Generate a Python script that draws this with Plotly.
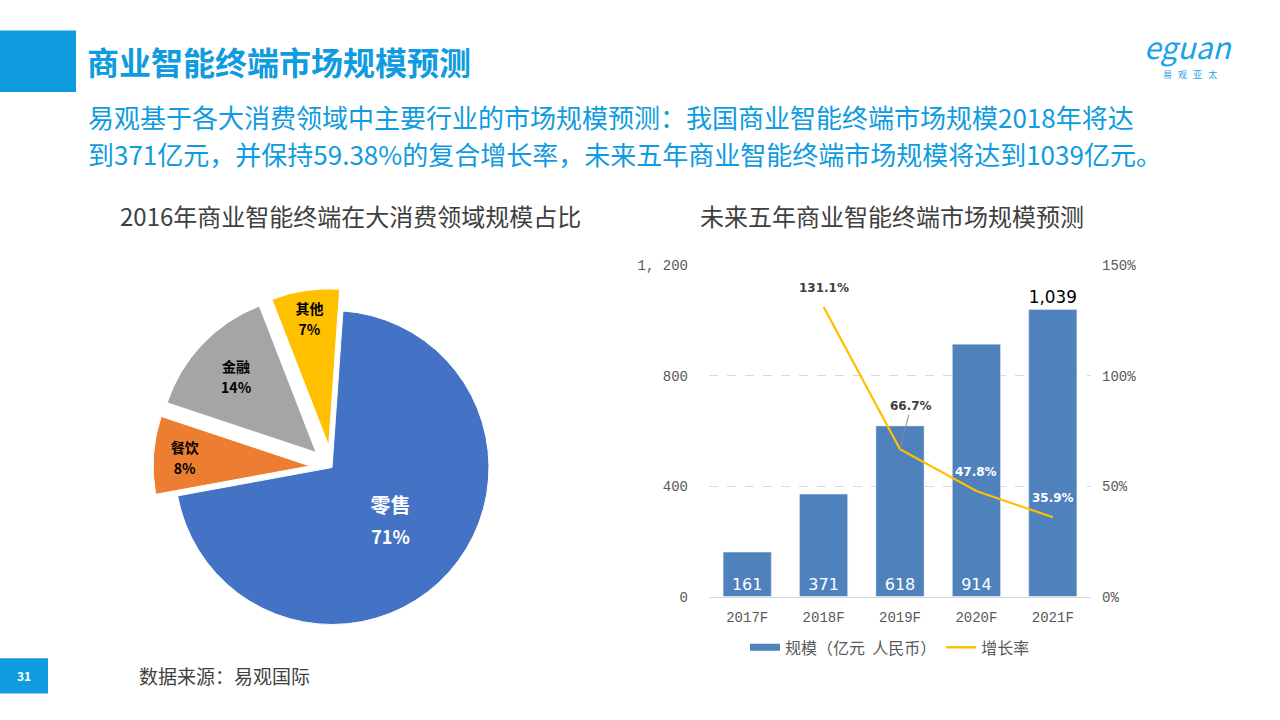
import plotly.graph_objects as go

# ---------------- data ----------------
pie_labels = ["零售", "餐饮", "金融", "其他"]
pie_values = [71, 8, 14, 7]
pie_colors = ["#4472C4", "#ED7D31", "#A5A5A5", "#FFC000"]

years = ["2017F", "2018F", "2019F", "2020F", "2021F"]
scale = [161, 371, 618, 914, 1039]
growth = [None, 1.311, 0.667, 0.478, 0.359]

left_ticks = [0, 400, 800, 1200]
left_tick_text = ["0", "400", "800", "1, 200"]
right_ticks = [0, 0.5, 1.0, 1.5]
right_tick_text = ["0%", "50%", "100%", "150%"]

W, H = 1280, 720
BLUE = "#0E9BE0"
BAR = "#4F81BD"
LINE = "#FFC000"
CJK = "Noto Sans CJK SC"


def px(x):
    return x / W


def py(y):
    return 1 - y / H


fig = go.Figure()

# ---------------- pie ----------------
# label font sizes: (base size that sets line spacing, label size, percent size)
pie_text_sizes = [(24, 20, 18), (16, 14, 14), (16, 14, 14), (16, 14, 14)]
pie_text = [
    f"<span style='font-size:{a}px'><b>{l}</b></span><br>"
    f"<span style='font-size:{b}px'><b>{v}%</b></span>"
    for l, v, (_, a, b) in zip(pie_labels, pie_values, pie_text_sizes)
]
cx, cy, rr = 332, 471, 183
fig.add_trace(go.Pie(
    labels=pie_labels,
    values=pie_values,
    text=pie_text,
    textinfo="text",
    textposition="inside",
    insidetextorientation="horizontal",
    textfont=dict(family=CJK, size=[s[0] for s in pie_text_sizes],
                  color=["white", "black", "black", "black"]),
    marker=dict(colors=pie_colors, line=dict(color="white", width=1)),
    sort=False,
    direction="clockwise",
    rotation=4,
    pull=[0, 0.14, 0.14, 0.14],
    domain=dict(x=[px(cx - rr), px(cx + rr)], y=[py(cy + rr), py(cy - rr)]),
    showlegend=False,
    hoverinfo="label+percent",
))

# ---------------- bar + line ----------------
fig.add_trace(go.Bar(
    x=years, y=scale, name="规模（亿元  人民币）",
    marker=dict(color=BAR),
    width=0.63,
    text=[f"{v:,}" for v in scale],
    textposition=["inside"] * 4 + ["outside"],
    insidetextanchor="start",
    textfont=dict(family="DejaVu Sans", size=[16, 16, 16, 16, 21],
                  color=["white"] * 4 + ["black"]),
    cliponaxis=False,
    showlegend=False,
    xaxis="x", yaxis="y",
))
fig.add_trace(go.Scatter(
    x=years, y=growth, name="增长率", mode="lines",
    line=dict(color=LINE, width=2.2),
    showlegend=False,
    xaxis="x", yaxis="y2",
))
# legend-only entries (wide swatches like the reference)
fig.add_trace(go.Scatter(x=[None], y=[None], mode="lines",
                         name="规模（亿元  人民币）",
                         line=dict(color=BAR, width=7)))
fig.add_trace(go.Scatter(x=[None], y=[None], mode="lines", name="增长率",
                         line=dict(color=LINE, width=2.5)))

# growth labels
lab_font = dict(family="DejaVu Sans", size=12)
for i, (yr, g) in enumerate(zip(years, growth)):
    if g is None:
        continue
    txt = f"<b>{g*100:.1f}%</b>"
    if yr == "2019F":
        fig.add_annotation(x=yr, y=g, xref="x", yref="y2", text=txt,
                           showarrow=True, ax=11, ay=-43, arrowhead=0,
                           arrowwidth=1, arrowcolor="#8c8c8c",
                           font=dict(**lab_font, color="#404040"))
    else:
        col = "#404040" if i == 1 else "white"
        fig.add_annotation(x=yr, y=g, xref="x", yref="y2", text=txt,
                           showarrow=False, yshift=19,
                           font=dict(**lab_font, color=col))

tick_font = dict(family="Liberation Mono", size=14, color="#595959")
fig.update_layout(
    xaxis=dict(domain=[px(709), px(1091)], showgrid=False,
               showline=True, linecolor="#d9d9d9", linewidth=1,
               tickfont=tick_font, ticks="", ticklabelstandoff=8),
    yaxis=dict(domain=[py(603), py(264)], range=[0, 1200],
               tickvals=left_ticks, ticktext=left_tick_text,
               tickfont=tick_font, showgrid=True, gridcolor="#d9d9d9",
               griddash="dash", zeroline=False, ticklabelstandoff=20),
    yaxis2=dict(domain=[py(603), py(264)], range=[0, 1.5],
                overlaying="y", side="right", anchor="x",
                tickvals=right_ticks, ticktext=right_tick_text,
                tickfont=tick_font, showgrid=False, zeroline=False,
                ticklabelstandoff=10),
    bargap=0.37,
    legend=dict(orientation="h", x=px(890), xanchor="center",
                y=py(655), yanchor="middle",
                font=dict(family=CJK, size=16, color="#595959"),
                itemwidth=30, tracegroupgap=0),
)

# ---------------- decorations / text ----------------
shapes = [
    dict(type="rect", xref="paper", yref="paper", x0=0, x1=px(76),
         y0=py(87), y1=py(24), fillcolor=BLUE, line=dict(width=0)),
    dict(type="rect", xref="paper", yref="paper", x0=0, x1=px(48),
         y0=py(702), y1=py(666), fillcolor=BLUE, line=dict(width=0)),
]
fig.update_layout(shapes=shapes)

sub = ("<span style='font-size:26px'>易观基于各大消费领域中主要行业的市场规模预测：我国商业智能终端市场规模2018年将达</span>"
       "<br><span style='font-size:26px'>到371亿元，并保持59.38%的复合增长率，未来五年商业智能终端市场规模将达到1039亿元。</span>")
texts = [
    dict(x=85, y=55, text="<b>商业智能终端市场规模预测</b>", size=32, color=BLUE,
         anchor="left"),
    dict(x=86, y=130.5, text=sub, size=28.8, color=BLUE, anchor="left"),
    dict(x=350, y=213, text="2016年商业智能终端在大消费领域规模占比", size=24,
         color="#404040", anchor="center"),
    dict(x=892, y=213, text="未来五年商业智能终端市场规模预测", size=24,
         color="#404040", anchor="center"),
    dict(x=137, y=684, text="数据来源：易观国际", size=19, color="#404040",
         anchor="left"),
    dict(x=24, y=684, text="<b>31</b>", size=12, color="white", anchor="center"),
    dict(x=1188, y=40, text="<i>eguan</i>", size=30, color="#1AA3E8",
         anchor="center"),
    dict(x=1190, y=69, text="易   观   亚   太", size=9, color="#1AA3E8",
         anchor="center"),
]
for t in texts:
    fig.add_annotation(x=px(t["x"]), y=py(t["y"]), xref="paper", yref="paper",
                       text=t["text"], showarrow=False, xanchor=t["anchor"],
                       yanchor="middle", align="left",
                       font=dict(family=CJK, size=t["size"], color=t["color"]))

fig.update_layout(width=W, height=H, margin=dict(l=0, r=0, t=0, b=0),
                  paper_bgcolor="white", plot_bgcolor="white")

fig.write_html("out.html")
